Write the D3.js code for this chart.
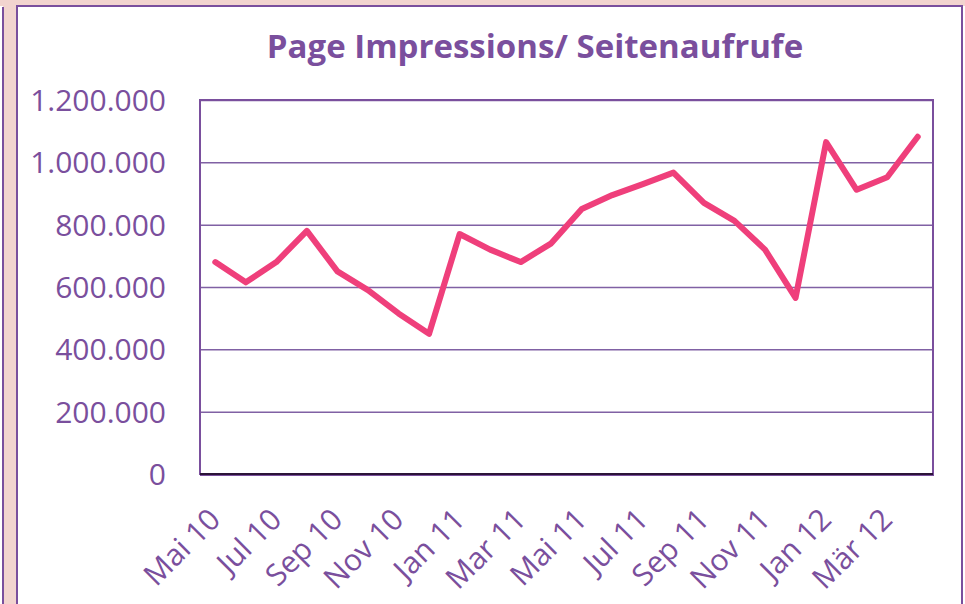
<!DOCTYPE html>
<html><head><meta charset="utf-8">
<script src="https://cdn.jsdelivr.net/npm/d3@7"></script>
<style>html,body{margin:0;padding:0;background:#fff;overflow:hidden}</style>
</head><body>
<svg id="c" width="965" height="604"></svg>
<script>
const months = ["Mai 10","Jun 10","Jul 10","Aug 10","Sep 10","Okt 10","Nov 10","Dez 10",
  "Jan 11","Feb 11","Mar 11","Apr 11","Mai 11","Jun 11","Jul 11","Aug 11","Sep 11","Okt 11","Nov 11","Dez 11",
  "Jan 12","Feb 12","Mär 12","Apr 12"];
const impressions = [680000,615000,680000,780000,650000,590000,515000,450000,
  770000,720000,680000,740000,850000,895000,930000,967000,870000,812000,720000,565000,
  1065000,912000,952000,1082000];
const xTickLabels = ["Mai 10","Jul 10","Sep 10","Nov 10","Jan 11","Mar 11","Mai 11","Jul 11","Sep 11","Nov 11","Jan 12","Mär 12"];
const yTicks = [0,200000,400000,600000,800000,1000000,1200000];
const title = "Page Impressions/ Seitenaufrufe";

const purple = "#7a4f9d", gridC = "#8061a4", pink = "#ef3f7b", bg = "#f2d4cf";
const svg = d3.select("#c");
const font = "'Open Sans', sans-serif";

// frame
svg.append("rect").attr("x",0).attr("y",0).attr("width",965).attr("height",6).attr("fill",bg);
svg.append("rect").attr("x",3).attr("y",0).attr("width",14).attr("height",604).attr("fill",bg);
svg.append("line").attr("x1",3).attr("x2",3).attr("y1",7).attr("y2",604).attr("stroke",purple).attr("stroke-width",2);
svg.append("rect").attr("x",17).attr("y",6).attr("width",945).attr("height",620)
  .attr("fill","#fff").attr("stroke",purple).attr("stroke-width",2);

const L=200,R=933,T=100,B=474;
const x = d3.scalePoint().domain(months).range([L,R]).padding(0.5);
const y = d3.scaleLinear().domain([0,1200000]).range([B,T]);
const loc = d3.formatLocale({decimal:",",thousands:".",grouping:[3],currency:["","€"]});
const fmt = loc.format(",.0f");

// gridlines
const grid = svg.append("g").attr("transform",`translate(${L},0)`)
  .call(d3.axisLeft(y).tickValues(yTicks).tickSize(-(R-L)).tickFormat(""));
grid.select(".domain").remove();
grid.selectAll("line").attr("stroke",gridC).attr("stroke-width",1.5);

// plot border
svg.append("rect").attr("x",L).attr("y",T).attr("width",R-L).attr("height",B-T)
  .attr("fill","none").attr("stroke",purple).attr("stroke-width",2);
svg.append("line").attr("x1",L).attr("x2",R).attr("y1",B).attr("y2",B).attr("stroke","#2b1338").attr("stroke-width",2);
svg.append("line").attr("x1",L).attr("x2",R+1).attr("y1",B+1.5).attr("y2",B+1.5).attr("stroke",purple).attr("stroke-width",1.2);

// y labels
const ya = svg.append("g").attr("transform",`translate(166,0)`)
  .call(d3.axisLeft(y).tickValues(yTicks).tickSize(0).tickPadding(0).tickFormat(fmt));
ya.select(".domain").remove();
ya.selectAll("text").attr("font-family",font).attr("font-size",30).attr("fill",purple).attr("dy","0.35em");

// x labels
const xa = svg.append("g").attr("transform",`translate(0,${B})`)
  .call(d3.axisBottom(x).tickValues(xTickLabels.map((l,i)=>months[i*2])).tickSize(0).tickFormat((d,i)=>xTickLabels[i]));
xa.select(".domain").remove();
xa.selectAll("text").attr("font-family",font).attr("font-size",30).attr("fill",purple)
  .attr("text-anchor","end").attr("y",0).attr("dy","0.35em")
  .attr("transform","translate(-1,40) rotate(-45)");

// line
svg.append("path").datum(impressions)
  .attr("d", d3.line().x((d,i)=>x(months[i])).y(d=>y(d)))
  .attr("fill","none").attr("stroke",pink).attr("stroke-width",6)
  .attr("stroke-linecap","round").attr("stroke-linejoin","round");

// title
svg.append("text").attr("x",535).attr("y",58).attr("text-anchor","middle")
  .attr("font-family",font).attr("font-weight","bold").attr("font-size",33).attr("fill",purple)
  .text(title);
</script>
</body></html>
